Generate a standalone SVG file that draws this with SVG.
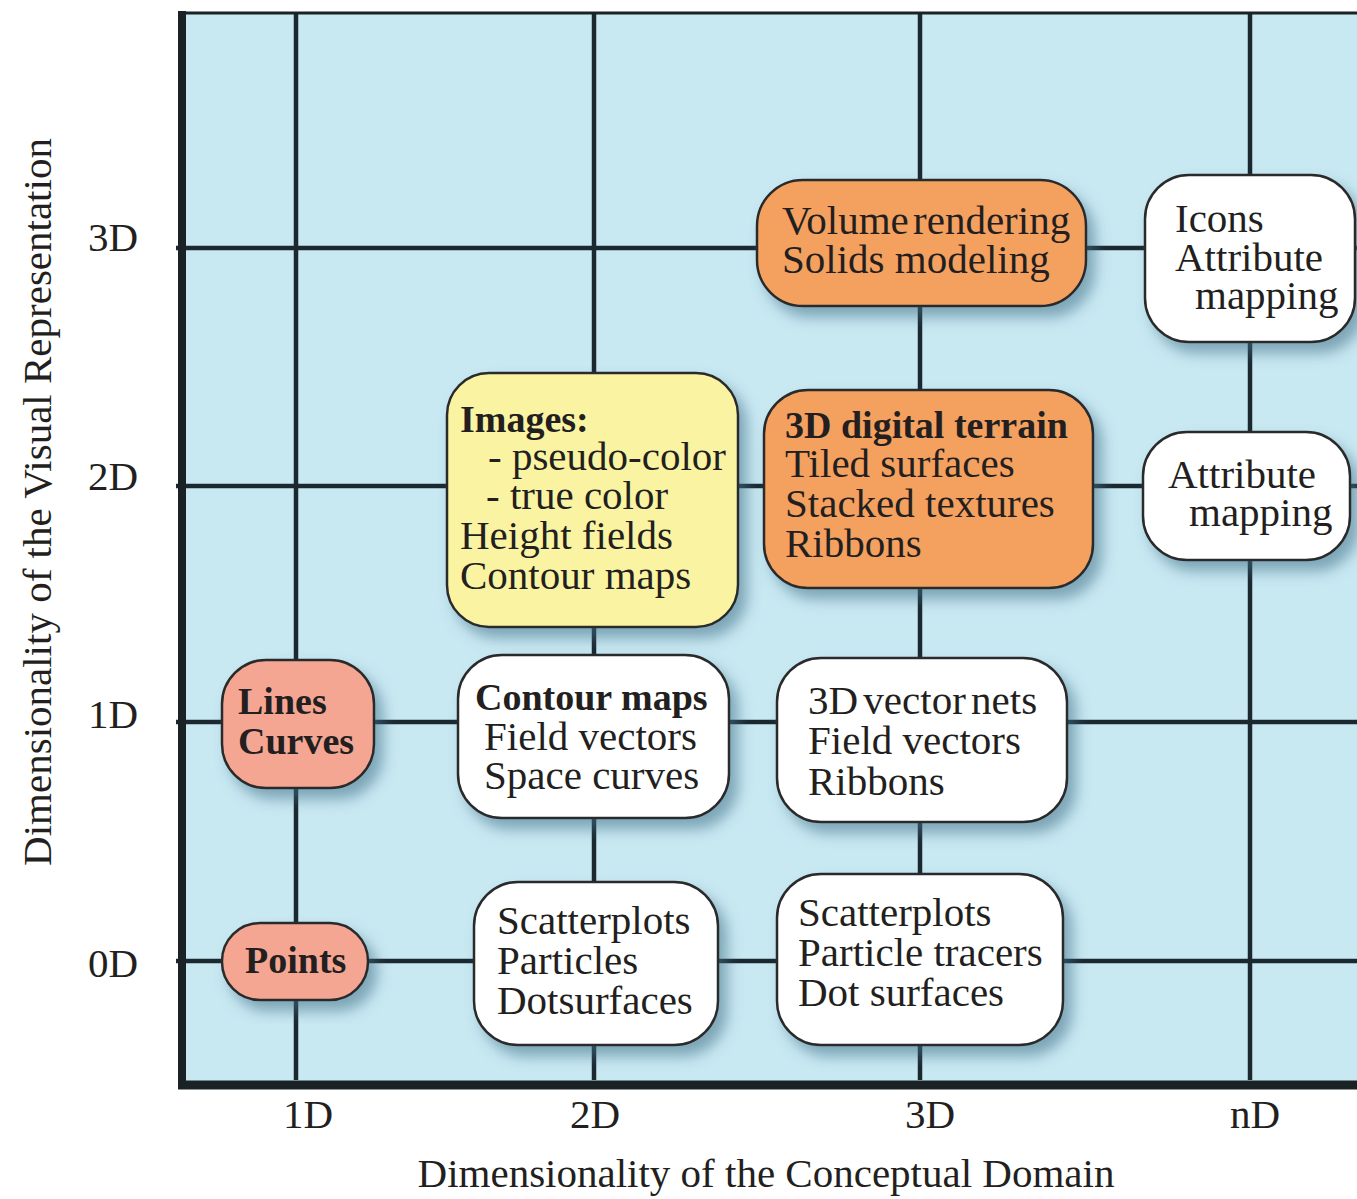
<svg xmlns="http://www.w3.org/2000/svg" width="1357" height="1199" viewBox="0 0 1357 1199">
<style>
text{font-family:"Liberation Serif","Times New Roman",serif;fill:#231f20;font-size:41px}
.b{font-weight:bold;font-size:38px}
.ax{font-size:41px}
.grid{stroke:#1b2830;stroke-width:4.5;fill:none}
.frame{stroke:#1b2226;fill:none}
.box{stroke:#2b2b2b;stroke-width:2.5;filter:url(#sh)}
.white{fill:#ffffff}
.orange{fill:#f4a05f}
.yellow{fill:#faf4a2}
.salmon{fill:#f4a693}
</style>
<defs>
<filter id="sh" x="-20%" y="-20%" width="150%" height="150%">
<feGaussianBlur in="SourceAlpha" stdDeviation="7"/>
<feOffset dx="8" dy="10" result="o"/>
<feFlood flood-color="#3f6f86" flood-opacity="0.55"/>
<feComposite in2="o" operator="in"/>
<feMerge><feMergeNode/><feMergeNode in="SourceGraphic"/></feMerge>
</filter>
</defs>
<rect x="0" y="0" width="1357" height="1199" fill="#ffffff"/>
<rect x="182" y="13" width="1175" height="1071" fill="#c8e8f2"/>
<g id="connectors">
<line class="grid" x1="296" y1="13" x2="296" y2="1080"/>
<line class="grid" x1="594" y1="13" x2="594" y2="1080"/>
<line class="grid" x1="920" y1="13" x2="920" y2="1080"/>
<line class="grid" x1="1250" y1="13" x2="1250" y2="1080"/>
<line class="grid" x1="176" y1="248" x2="1357" y2="248"/>
<line class="grid" x1="176" y1="486" x2="1357" y2="486"/>
<line class="grid" x1="176" y1="722" x2="1357" y2="722"/>
<line class="grid" x1="176" y1="961" x2="1357" y2="961"/>
</g>
<g id="frame">
<line class="frame" stroke-width="3" x1="178" y1="13" x2="1357" y2="13"/>
<line class="frame" stroke-width="8" x1="182" y1="11" x2="182" y2="1089"/>
<line class="frame" stroke-width="9" x1="178" y1="1085" x2="1357" y2="1085"/>
</g>
<g id="axis-labels">
<text class="ax" x="88" y="251">3D</text>
<text class="ax" x="88" y="490">2D</text>
<text class="ax" x="88" y="728">1D</text>
<text class="ax" x="88" y="977">0D</text>
<text class="ax" x="308" y="1128" text-anchor="middle">1D</text>
<text class="ax" x="595" y="1128" text-anchor="middle">2D</text>
<text class="ax" x="930" y="1128" text-anchor="middle">3D</text>
<text class="ax" x="1255" y="1128" text-anchor="middle">nD</text>
<text class="ax" x="766" y="1187" text-anchor="middle">Dimensionality of the Conceptual Domain</text>
<text class="ax" transform="translate(51 502) rotate(-90)" text-anchor="middle">Dimensionality of the Visual Representation</text>
</g>
<g id="node-volume">
<rect class="box orange" x="757" y="180" width="329" height="126" rx="46"/>
<text x="782" y="234" word-spacing="-6">Volume rendering</text>
<text x="782" y="273">Solids modeling</text>
</g>
<g id="node-icons">
<rect class="box white" x="1145" y="175" width="210" height="167" rx="44"/>
<text x="1175" y="232">Icons</text>
<text x="1175" y="271">Attribute</text>
<text x="1195" y="309">mapping</text>
</g>
<g id="node-images">
<rect class="box yellow" x="447" y="373" width="291" height="254" rx="42"/>
<text class="b" x="460" y="432">Images:</text>
<text x="488" y="470">- pseudo-color</text>
<text x="486" y="509">- true color</text>
<text x="460" y="549">Height fields</text>
<text x="460" y="589">Contour maps</text>
</g>
<g id="node-terrain">
<rect class="box orange" x="764" y="390" width="329" height="198" rx="44"/>
<text class="b" x="785" y="438">3D digital terrain</text>
<text x="785" y="477">Tiled surfaces</text>
<text x="785" y="517">Stacked textures</text>
<text x="785" y="557">Ribbons</text>
</g>
<g id="node-attr2d">
<rect class="box white" x="1143" y="432" width="207" height="128" rx="44"/>
<text x="1168" y="488">Attribute</text>
<text x="1189" y="526">mapping</text>
</g>
<g id="node-lines">
<rect class="box salmon" x="222" y="660" width="152" height="128" rx="44"/>
<text class="b" x="238" y="714">Lines</text>
<text class="b" x="238" y="754">Curves</text>
</g>
<g id="node-contour">
<rect class="box white" x="458" y="655" width="271" height="163" rx="44"/>
<text class="b" x="475" y="710">Contour maps</text>
<text x="484" y="750">Field vectors</text>
<text x="484" y="789">Space curves</text>
</g>
<g id="node-vector">
<rect class="box white" x="777" y="658" width="290" height="164" rx="44"/>
<text x="808" y="714" word-spacing="-5">3D vector nets</text>
<text x="808" y="754">Field vectors</text>
<text x="808" y="795">Ribbons</text>
</g>
<g id="node-points">
<rect class="box salmon" x="222" y="923" width="146" height="77" rx="38"/>
<text class="b" x="245" y="973">Points</text>
</g>
<g id="node-scatter2d">
<rect class="box white" x="474" y="882" width="244" height="163" rx="44"/>
<text x="497" y="934">Scatterplots</text>
<text x="497" y="974">Particles</text>
<text x="497" y="1014">Dotsurfaces</text>
</g>
<g id="node-scatter3d">
<rect class="box white" x="777" y="874" width="286" height="171" rx="44"/>
<text x="798" y="926">Scatterplots</text>
<text x="798" y="966">Particle tracers</text>
<text x="798" y="1006">Dot surfaces</text>
</g>
</svg>
